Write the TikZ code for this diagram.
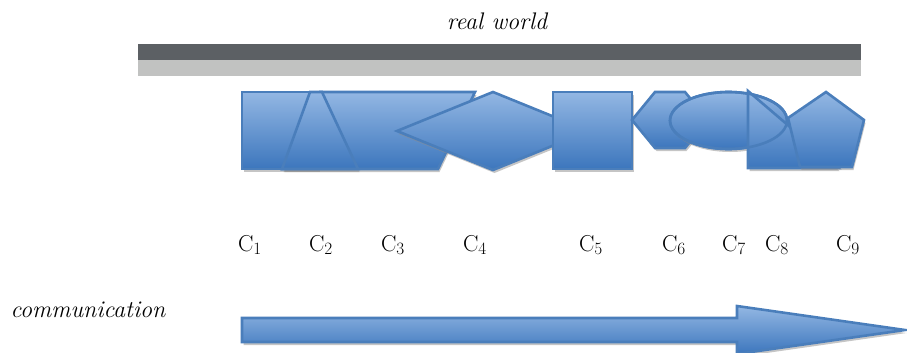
\documentclass[tikz,border=0pt]{standalone}
\usetikzlibrary{shadows}
\definecolor{shTop}{HTML}{93B7E3}
\definecolor{shBot}{HTML}{3C76BD}
\definecolor{edgeBlue}{HTML}{4A7EBB}
\definecolor{barDark}{HTML}{5C6064}
\definecolor{barLight}{HTML}{C1C2C1}
\tikzset{
 blk/.style={draw=edgeBlue, line width=2.6pt, top color=shTop, bottom color=shBot, line join=miter,
   drop shadow={shadow xshift=1.5pt, shadow yshift=-3pt, fill=black!45, opacity=0.5}},
 edgeonly/.style={draw=edgeBlue, line width=2.6pt},
 lbl/.style={font=\fontsize{23}{27}\selectfont, inner sep=0pt, anchor=base},
 itl/.style={font=\fontsize{24}{28}\selectfont\itshape, inner sep=0pt},
}
\begin{document}
\begin{tikzpicture}[x=1pt,y=-1pt]
\useasboundingbox (0,0) rectangle (907,353);
% bars
\fill[barDark] (138,44) rectangle (861,60);
\fill[barLight] (138,60) rectangle (861,76);
\node[itl] (rw) at (497,21) {real world};
% C1 rectangle
\path[blk] (242,92) rectangle (318,169);
% C3 parallelogram
\path[blk] (320,92) -- (475,92) -- (438,169) -- (283,169) -- cycle;
% C2 triangle
\path[blk] (310,92) -- (322,92) -- (358,169) -- (282,169) -- cycle;
% C4 diamond
\path[blk] (397,131) -- (493,92) -- (589,131) -- (493,170) -- cycle;
% C5 rectangle
\path[blk] (553,92) rectangle (632,169);
% C6 hexagon
\path[blk] (632,120) -- (655,92) -- (685,92) -- (708,120) -- (685,148) -- (655,148) -- cycle;
% C7 ellipse
\path[blk] (728.5,120.5) ellipse [x radius=58.5pt, y radius=28.5pt];
% C8 right triangle
\path[blk] (748,91) -- (838,168) -- (748,168) -- cycle;
\path[edgeonly] (728.5,120.5) ellipse [x radius=58.5pt, y radius=28.5pt];
% C9 pentagon
\path[blk] (826,92) -- (864,120) -- (852,167) -- (800,167) -- (788,118) -- cycle;
% labels
\node[lbl] (c1) at (250,251) {C$_1$};
\node[lbl] (c2) at (321,251) {C$_2$};
\node[lbl] (c3) at (393,251) {C$_3$};
\node[lbl] (c4) at (475,251) {C$_4$};
\node[lbl] (c5) at (591,251) {C$_5$};
\node[lbl] (c6) at (674,251) {C$_6$};
\node[lbl] (c7) at (734,251) {C$_7$};
\node[lbl] (c8) at (777,251) {C$_8$};
\node[lbl] (c9) at (848,251) {C$_9$};
% communication
\node[itl] (comm) at (88,310) {communication};
\path[blk] (242,318) -- (737,318) -- (737,306) -- (905,330) -- (737,354) -- (737,342) -- (242,342) -- cycle;
\end{tikzpicture}
\end{document}
